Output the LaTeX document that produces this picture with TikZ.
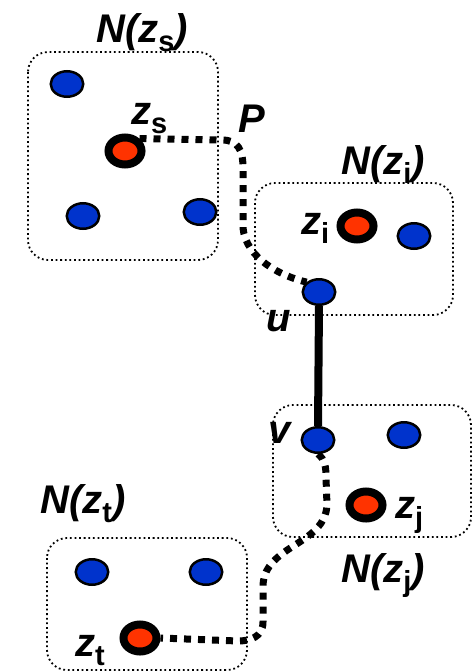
\documentclass[tikz,border=0pt]{standalone}
\usepackage{fontspec}
\setmainfont{Liberation Sans}
\usetikzlibrary{shapes.geometric,backgrounds}
\definecolor{nblue}{HTML}{0033CC}
\definecolor{nred}{HTML}{FF3300}
\newcommand\sbs[1]{\raisebox{-9.5pt}{\fontsize{29}{29}\selectfont\upshape #1}}
\tikzset{
 nbox/.style={draw, line width=1.8pt, dash pattern=on 1.8pt off 2.8pt, rounded corners=20pt},
 bnode/.style={ellipse, draw, line width=2.5pt, fill=nblue, minimum width=32.5pt, minimum height=25.5pt, inner sep=0pt},
 rnode/.style={ellipse, draw, line width=8pt, fill=nred, minimum width=33pt, minimum height=27pt, inner sep=0pt},
 pth/.style={line width=7pt, dash pattern=on 7pt off 7pt},
 edgeline/.style={line width=8pt},
 lab/.style={font=\fontsize{40}{44}\selectfont\bfseries\itshape, inner sep=0pt, anchor=base west},
}
\begin{document}
\begin{tikzpicture}[x=1pt,y=-1pt]
\useasboundingbox (0,0) rectangle (473,672);
% nodes
\node[bnode] (s1) at (67,84) {};
\node[rnode] (zs) at (125,151) {};
\node[bnode] (s2) at (83,216) {};
\node[bnode] (s3) at (200,212) {};
\node[rnode] (zi) at (357,226) {};
\node[bnode] (i1) at (414,236) {};
\node[bnode] (u) at (319,292) {};
\node[bnode] (v) at (318,440) {};
\node[bnode] (j1) at (404,435) {};
\node[rnode] (zj) at (366,505) {};
\node[bnode] (t1) at (92,572) {};
\node[bnode] (t2) at (206,572) {};
\node[rnode] (zt) at (140,638) {};
% labels
\node[lab] (lNs) at (96,42) {N(z\sbs{s})};
\node[lab] (lzs) at (131,124) {z\sbs{s}};
\node[lab] (lP) at (238,132) {P};
\node[lab] (lNi) at (341,174) {N(z\sbs{i})};
\node[lab] (lzi) at (301,234) {z\sbs{i}};
\node[lab] (lu) at (266,331) {u};
\node[lab] (lv) at (268,443) {v};
\node[lab] (lzj) at (395,518) {z\sbs{j}};
\node[lab] (lNj) at (341,582) {N(z\sbs{j})};
\node[lab] (lNt) at (40,513) {N(z\sbs{t})};
\node[lab] (lzt) at (75,656) {z\sbs{t}};
\begin{scope}[on background layer]
\draw[nbox] (28,52) rectangle (218,260);
\draw[nbox] (255,183) rectangle (453,315);
\draw[nbox] (273,405) rectangle (471,537);
\draw[nbox] (47,538) rectangle (247,670);
\draw[pth] (zs.north east) -- (222,140) .. controls (238,140) and (243,150) .. (243,168) -- (243,228) .. controls (246,258) and (280,276) .. (u.north west);
\draw[pth] (v.south) .. controls (325,460) and (326,466) .. (326,478) -- (327,505) .. controls (325,545) and (265,545) .. (263,585) -- (263,622) .. controls (263,637) and (250,641) .. (238,641) -- (zt.east);
\draw[edgeline] (u.south) -- (v.north);
\end{scope}
\end{tikzpicture}
\end{document}
